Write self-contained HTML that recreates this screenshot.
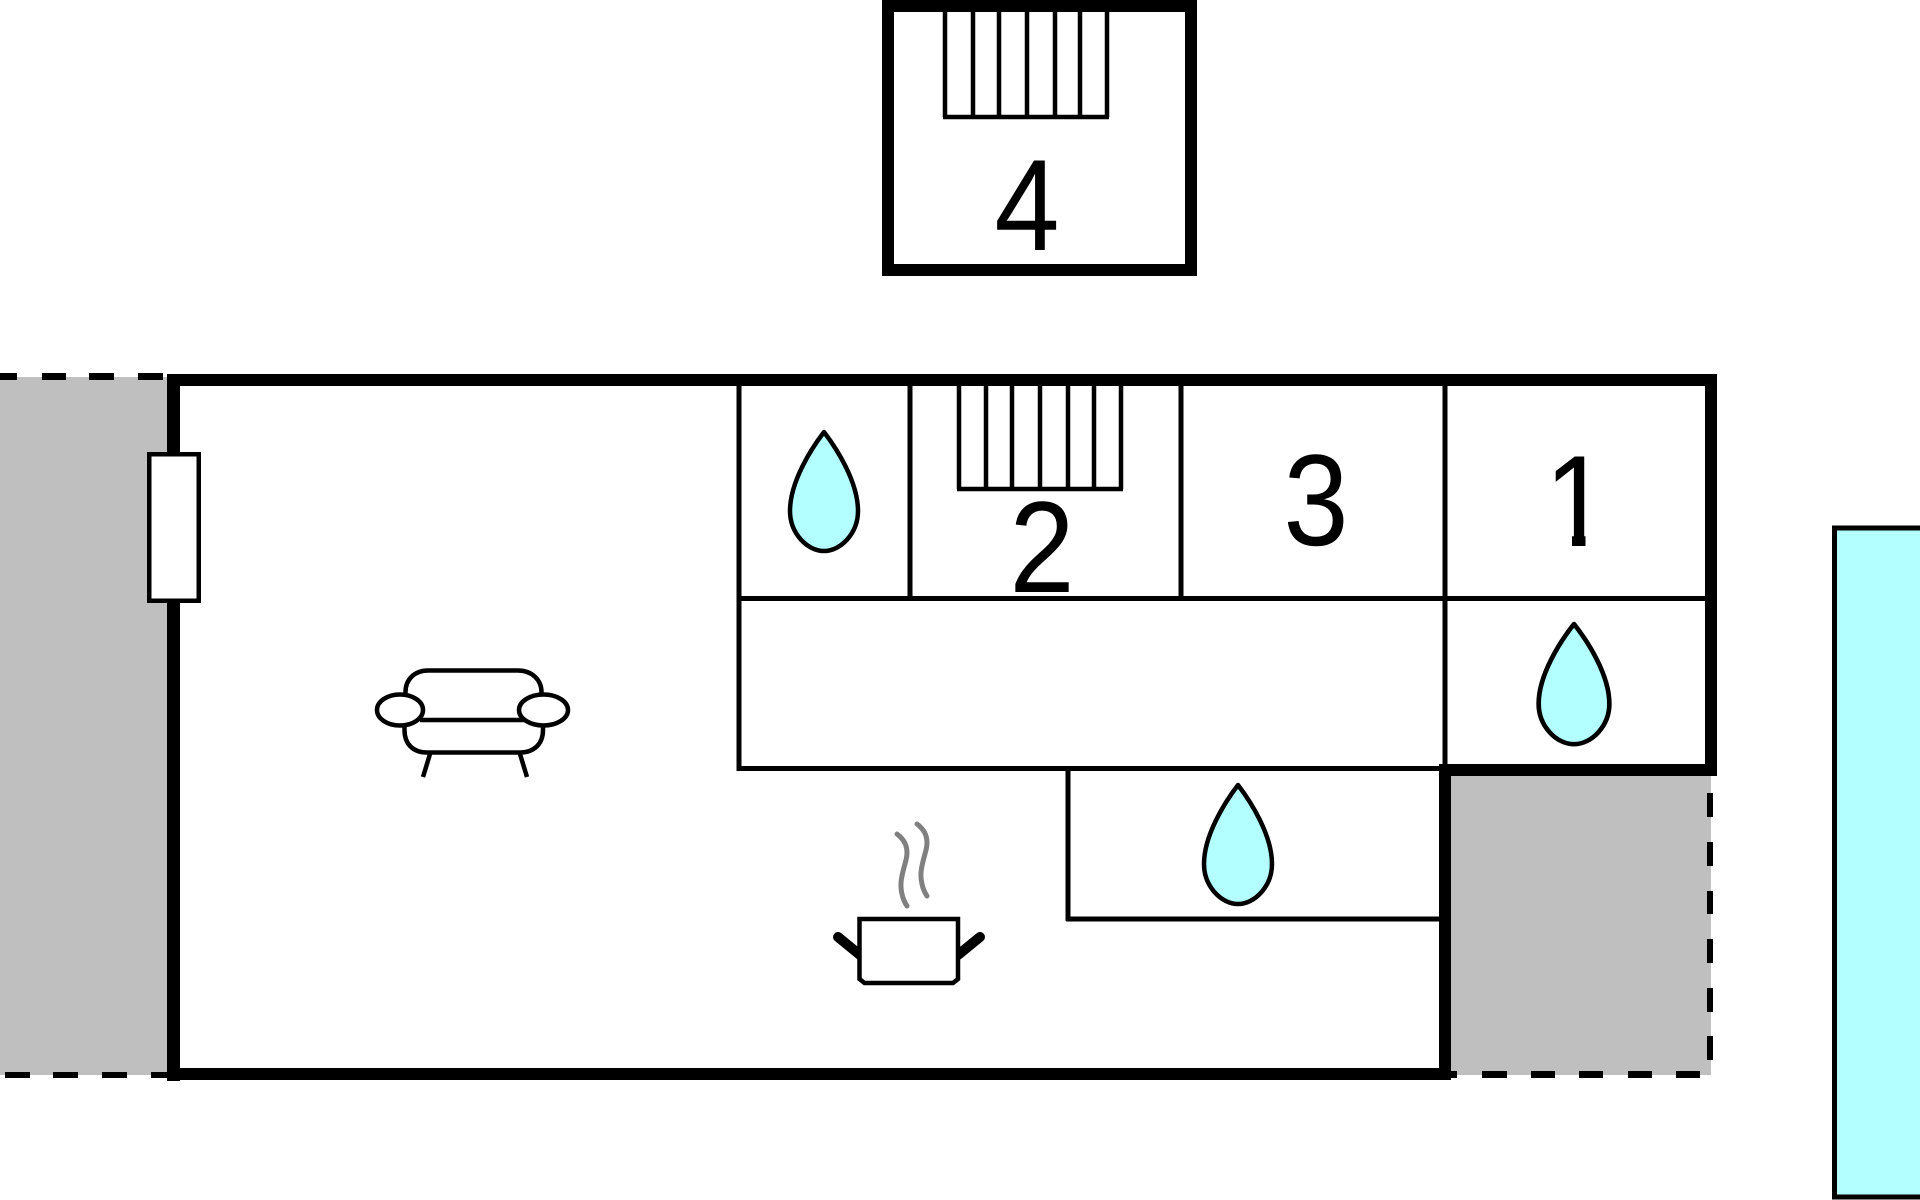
<!DOCTYPE html>
<html>
<head>
<meta charset="utf-8">
<style>
html,body{margin:0;padding:0;background:#fff;}
svg{display:block;}
text{font-family:"Liberation Sans",Arial,sans-serif;font-size:130px;fill:#000;}
</style>
</head>
<body>
<svg width="1920" height="1200" viewBox="0 0 1920 1200" xmlns="http://www.w3.org/2000/svg">
  <rect x="0" y="0" width="1920" height="1200" fill="#fff"/>

  <!-- gray outdoor areas -->
  <rect x="0" y="377" width="168" height="698" fill="#bfbfbf"/>
  <rect x="1451" y="776" width="260" height="299" fill="#bfbfbf"/>

  <!-- dashed borders -->
  <g fill="#000">
    <rect x="0" y="373" width="17" height="7"/>
    <rect x="42" y="373" width="24" height="7"/>
    <rect x="89" y="373" width="25" height="7"/>
    <rect x="138" y="373" width="25" height="7"/>

    <rect x="5" y="1072" width="25" height="6"/>
    <rect x="53" y="1072" width="25" height="6"/>
    <rect x="102" y="1072" width="25" height="6"/>
    <rect x="151" y="1072" width="17" height="6"/>

    <rect x="1707" y="793" width="6" height="24"/>
    <rect x="1707" y="842" width="6" height="24"/>
    <rect x="1707" y="891" width="6" height="23"/>
    <rect x="1707" y="939" width="6" height="24"/>
    <rect x="1707" y="988" width="6" height="24"/>
    <rect x="1707" y="1036" width="6" height="24"/>

    <rect x="1451" y="1071" width="6" height="7"/>
    <rect x="1482" y="1071" width="25" height="7"/>
    <rect x="1531" y="1071" width="24" height="7"/>
    <rect x="1579" y="1071" width="24" height="7"/>
    <rect x="1628" y="1071" width="24" height="7"/>
    <rect x="1676" y="1071" width="24" height="7"/>
  </g>

  <!-- cyan pool -->
  <rect x="1834.5" y="528" width="200" height="669" fill="#b3ffff" stroke="#000" stroke-width="5"/>

  <!-- building 4 (top) -->
  <rect x="888" y="6" width="303" height="264" fill="#fff" stroke="#000" stroke-width="12"/>
  <g stroke="#000" stroke-width="4.5" fill="none">
    <line x1="945" y1="12" x2="945" y2="117"/>
    <line x1="973" y1="12" x2="973" y2="117"/>
    <line x1="999" y1="12" x2="999" y2="117"/>
    <line x1="1027" y1="12" x2="1027" y2="117"/>
    <line x1="1055" y1="12" x2="1055" y2="117"/>
    <line x1="1080" y1="12" x2="1080" y2="117"/>
    <line x1="1107" y1="12" x2="1107" y2="117"/>
    <line x1="943" y1="117" x2="1109" y2="117"/>
  </g>
  <text x="0" y="0" text-anchor="middle" transform="translate(1027,250) scale(0.9,1)">4</text>

  <!-- interior thin walls -->
  <g stroke="#000" stroke-width="5" fill="none">
    <line x1="739" y1="380" x2="739" y2="771"/>
    <line x1="737" y1="598.5" x2="1711" y2="598.5"/>
    <line x1="910" y1="380" x2="910" y2="598"/>
    <line x1="1181" y1="380" x2="1181" y2="598"/>
    <line x1="1445" y1="380" x2="1445" y2="766"/>
    <line x1="737" y1="768.5" x2="1445" y2="768.5"/>
    <line x1="1068" y1="768" x2="1068" y2="921"/>
    <line x1="1066" y1="919" x2="1445" y2="919"/>
  </g>

  <!-- stairs 2 -->
  <g stroke="#000" stroke-width="4.5" fill="none">
    <line x1="959" y1="384" x2="959" y2="489"/>
    <line x1="986" y1="384" x2="986" y2="489"/>
    <line x1="1012" y1="384" x2="1012" y2="489"/>
    <line x1="1040" y1="384" x2="1040" y2="489"/>
    <line x1="1068" y1="384" x2="1068" y2="489"/>
    <line x1="1094" y1="384" x2="1094" y2="489"/>
    <line x1="1121" y1="384" x2="1121" y2="489"/>
    <line x1="957" y1="489" x2="1123" y2="489"/>
  </g>

  <!-- thick outer walls -->
  <g fill="#000">
    <rect x="167" y="374" width="1550" height="12"/>
    <rect x="167" y="374" width="13" height="707"/>
    <rect x="167" y="1068" width="1284" height="12"/>
    <rect x="1439" y="764" width="12" height="316"/>
    <rect x="1439" y="764" width="278" height="12"/>
    <rect x="1705" y="374" width="12" height="402"/>
  </g>

  <!-- window on left wall -->
  <rect x="149.25" y="454.25" width="49.5" height="146.5" fill="#fff" stroke="#000" stroke-width="4.5"/>

  <!-- labels -->
  <text x="0" y="0" text-anchor="middle" transform="translate(1042,592) scale(0.9,1)">2</text>
  <text x="0" y="0" text-anchor="middle" transform="translate(1316,545) scale(0.9,1)">3</text>
  <text x="0" y="0" text-anchor="middle" transform="translate(1577,546) scale(0.9,1)">1</text>
  <!-- hide foot serif of "1" to match reference glyph -->
  <rect x="1540" y="536" width="32" height="14" fill="#fff"/>
  <rect x="1585.5" y="536" width="30.5" height="14" fill="#fff"/>

  <!-- water drops -->
  <defs>
    <path id="drop" d="M0,0 C-13,17 -34,50 -34,79 C-34,101 -17,119 0,119 C17,119 34,101 34,79 C34,50 13,17 0,0Z"/>
  </defs>
  <g fill="#b3ffff" stroke="#000" stroke-width="4.5" stroke-linejoin="round">
    <use href="#drop" transform="translate(824,432)"/>
    <use href="#drop" transform="translate(1574,624) scale(1.04,1.01)"/>
    <use href="#drop" transform="translate(1238,785)"/>
  </g>

  <!-- sofa -->
  <g stroke="#000" stroke-width="4.5" fill="none" stroke-linecap="butt">
    <path d="M405.5,697 L405.5,692 C405.5,680 414,670.5 428,670.5 L518,670.5 C532,670.5 541.5,680 541.5,692 L541.5,697"/>
    <path d="M404.5,722 L404.5,730 C404.5,744 413,752.5 427,752.5 L520,752.5 C534,752.5 543,744 543,730 L543,722"/>
    <line x1="420" y1="720" x2="525" y2="720"/>
    <line x1="430" y1="754" x2="423" y2="777"/>
    <line x1="520" y1="754" x2="527" y2="777"/>
    <ellipse cx="400" cy="710" rx="23" ry="15.5" fill="#fff"/>
    <ellipse cx="543.5" cy="710" rx="24.5" ry="15.5" fill="#fff"/>
  </g>

  <!-- pot -->
  <g fill="none" stroke="#808080" stroke-width="5" stroke-linecap="round">
    <path d="M897,834 C905,840 909,848 906,860 C903,872 899,882 902,894 C903,899 905,903 907,906"/>
    <path d="M917,824 C925,830 929,838 926,850 C923,862 919,872 922,884 C923,889 925,893 927,896"/>
  </g>
  <g stroke="#000">
    <line x1="838" y1="937" x2="860" y2="955" stroke-width="10" stroke-linecap="round"/>
    <line x1="980" y1="937" x2="958" y2="955" stroke-width="10" stroke-linecap="round"/>
    <path d="M859.5,919 L958,919 L958,979 L953,983 L864.5,983 L859.5,979 Z" fill="#fff" stroke-width="4.5"/>
  </g>
</svg>
</body>
</html>
